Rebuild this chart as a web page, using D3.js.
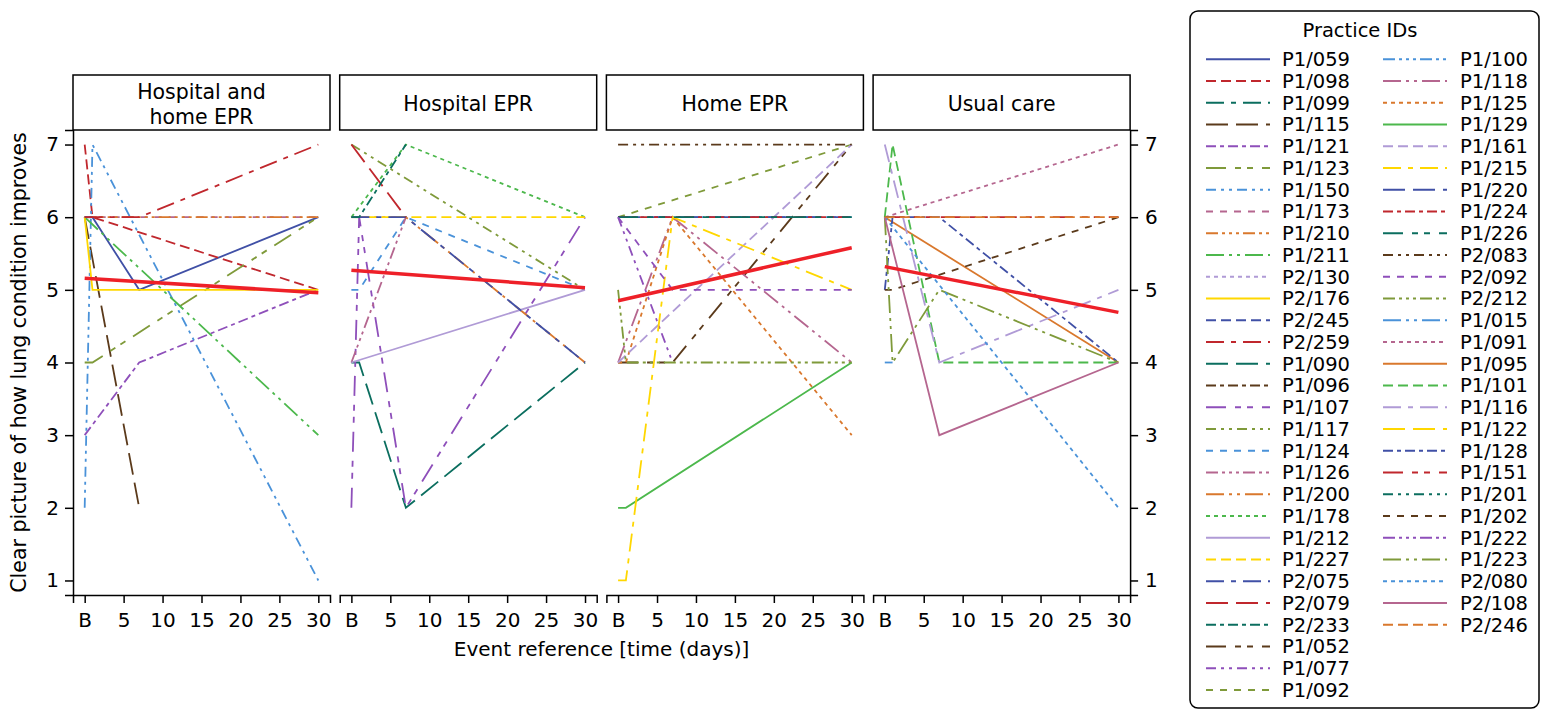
<!DOCTYPE html>
<html><head><meta charset="utf-8">
<script src="https://cdn.jsdelivr.net/npm/d3@7"></script>
<style>
html,body{margin:0;padding:0;background:#fff;}
svg{display:block;font-family:"DejaVu Sans",sans-serif;}
</style></head>
<body><svg id="c" width="1542" height="712"></svg>
<script>
// ---- data ----
const days = [0, 1, 7, 30];
const armNames = [["Hospital and", "home EPR"], ["Hospital EPR"], ["Home EPR"], ["Usual care"]];

const arm1Ids = ["P1/059","P1/098","P1/099","P1/115","P1/121","P1/123","P1/150","P1/173","P1/210","P1/211","P2/130","P2/176","P2/245","P2/259"];
const arm1Scores = [[6,6,5,6],[7,6,null,5],[6,6,null,null],[6,null,2,null],[3,null,4,5],[4,4,null,6],[2,7,null,1],[6,null,null,6],[6,null,null,6],[6,null,null,3],[6,6,null,null],[6,5,null,5],[6,6,null,null],[6,null,6,7]];

const arm2Ids = ["P1/090","P1/096","P1/107","P1/117","P1/124","P1/126","P1/200","P1/178","P1/212","P1/227","P2/075","P2/079","P2/233"];
const arm2Scores = [[4,4,2,4],[6,6,null,null],[2,6,2,6],[7,null,null,5],[5,5,6,5],[4,null,6,null],[6,null,6,4],[6,null,7,6],[4,null,null,5],[6,null,6,6],[6,6,6,4],[7,null,6,null],[6,6,7,null]];

const arm3Ids = ["P1/052","P1/077","P1/092","P1/100","P1/118","P1/125","P1/129","P1/161","P1/215","P1/220","P1/224","P1/226","P2/083","P2/092","P2/212"];
const arm3Scores = [[4,null,4,7],[6,null,4,null],[6,null,null,7],[6,null,null,6],[4,null,6,4],[4,4,6,3],[2,2,null,4],[4,null,null,7],[1,1,6,5],[6,null,null,6],[6,null,null,6],[6,null,null,6],[7,null,null,7],[6,null,5,5],[5,4,null,4]];

const arm4Ids = ["P1/015","P1/091","P1/095","P1/101","P1/116","P1/122","P1/128","P1/151","P1/201","P1/202","P1/222","P1/223","P2/080","P2/108","P2/246"];
const arm4Scores = [[4,4,null,null],[6,null,null,7],[6,null,null,4],[6,7,4,4],[7,null,4,5],[6,6,null,null],[5,6,6,4],[6,null,null,6],[6,6,null,null],[5,5,null,6],[6,null,null,null],[6,4,5,4],[6,null,null,2],[6,null,3,4],[6,null,null,6]];

const meanStart = [5.16, 5.27, 4.85, 5.32];
const meanEnd   = [4.96, 5.03, 5.58, 4.69];

const xTicks = [0, 5, 10, 15, 20, 25, 30];
const yTicks = [1, 2, 3, 4, 5, 6, 7];

// ---- styles ----
const palette = ["#4050a6","#c0272d","#0b6e5f","#5b3a1b","#8e4fba","#7f9a3a","#4a92d9","#b5668f","#d9782d","#4cb84c","#b09bd6","#ffd700"];
const dashes = [null,"10,5","18,7,5,7","22,8","10,4,4,4","20,9,6,6,6,9","10,5,3,5,3,5","7,7","12,4,3,4,3,4,3,4","18,5,3,5,3,5","4,4"];
const FONT = "DejaVu Sans";

const arms = [[arm1Ids, arm1Scores],[arm2Ids, arm2Scores],[arm3Ids, arm3Scores],[arm4Ids, arm4Scores]];

const svg = d3.select("#c");
const panelLeft = 73, panelW = 257, panelStep = 266.7;
const plotTop = 130, plotBottom = 595, hdrTop = 75;
const y = d3.scaleLinear().domain([0.8, 7.2]).range([plotBottom, plotTop]);

function styleAxis(g) {
  g.selectAll("path,line").attr("stroke", "#000").attr("stroke-width", 1.5);
  g.selectAll("text").attr("font-size", 20).attr("font-family", FONT).attr("fill", "#000");
}

let k = 0;
const allIds = [];
arms.forEach(([ids, scores], a) => {
  const px = panelLeft + a * panelStep;
  const x = d3.scaleLinear().domain([-1.5, 31.5]).range([px, px + panelW]);
  svg.append("rect").attr("x", px).attr("y", hdrTop).attr("width", panelW).attr("height", plotTop - hdrTop)
    .attr("fill", "#fff").attr("stroke", "#000").attr("stroke-width", 1.5);
  const lines = armNames[a];
  lines.forEach((t, i) => {
    const base = lines.length === 1 ? 111 : 99 + i * 25;
    svg.append("text").attr("x", px + panelW / 2).attr("y", base).attr("text-anchor", "middle")
      .attr("font-size", 20.5).text(t);
  });
  const ax = svg.append("g").attr("transform", `translate(0,${plotBottom})`)
    .call(d3.axisBottom(x).tickValues(xTicks).tickFormat(d => d === 0 ? "B" : d).tickSizeOuter(0).tickSize(8).tickPadding(10));
  styleAxis(ax);

  const line = d3.line().x(d => x(d[0])).y(d => y(d[1]));
  ids.forEach((id, i) => {
    const pts = days.map((d, j) => [d, scores[i][j]]).filter(p => p[1] !== null);
    const idx = k + i;
    if (pts.length > 1) {
      svg.append("path").attr("d", line(pts)).attr("fill", "none")
        .attr("stroke", palette[idx % 12]).attr("stroke-width", 1.8)
        .attr("stroke-dasharray", dashes[idx % 11]);
    }
    allIds.push(id);
  });
  k += ids.length;
  svg.append("path").attr("d", line([[0, meanStart[a]], [30, meanEnd[a]]]))
    .attr("fill", "none").attr("stroke", "#ee2028").attr("stroke-width", 3.5);

  if (a === 0) {
    const ay = svg.append("g").attr("transform", `translate(${px},0)`)
      .call(d3.axisLeft(y).tickValues(yTicks).tickFormat(d3.format("d")).tickSizeOuter(0).tickSize(8).tickPadding(6));
    styleAxis(ay);
  }
  if (a === 3) {
    const ay = svg.append("g").attr("transform", `translate(${px + panelW},0)`)
      .call(d3.axisRight(y).tickValues(yTicks).tickFormat(d3.format("d")).tickSizeOuter(0).tickSize(8).tickPadding(7));
    styleAxis(ay);
  }
});

svg.append("text").attr("transform", `translate(26,${(plotTop + plotBottom) / 2}) rotate(-90)`)
  .attr("text-anchor", "middle").attr("font-size", 20.5).text("Clear picture of how lung condition improves");
svg.append("text").attr("x", (panelLeft + panelLeft + 3 * panelStep + panelW) / 2).attr("y", 656)
  .attr("text-anchor", "middle").attr("font-size", 20).text("Event reference [time (days)]");

svg.append("rect").attr("x", 1190).attr("y", 11).attr("width", 349).attr("height", 697).attr("rx", 8)
  .attr("fill", "#fff").attr("stroke", "#000").attr("stroke-width", 1.5);
svg.append("text").attr("x", 1360).attr("y", 37).attr("text-anchor", "middle").attr("font-size", 19.5).text("Practice IDs");
allIds.forEach((id, i) => {
  const col = i < 30 ? 0 : 1;
  const row = col ? i - 30 : i;
  const cy = 59.3 + row * 21.75;
  const lx = col ? 1383 : 1206;
  svg.append("line").attr("x1", lx).attr("x2", lx + 64).attr("y1", cy).attr("y2", cy)
    .attr("stroke", palette[i % 12]).attr("stroke-width", 2).attr("stroke-dasharray", dashes[i % 11]);
  svg.append("text").attr("x", col ? 1460 : 1282).attr("y", cy).attr("dy", "0.35em")
    .attr("font-size", 19.5).text(id);
});
</script></body></html>
